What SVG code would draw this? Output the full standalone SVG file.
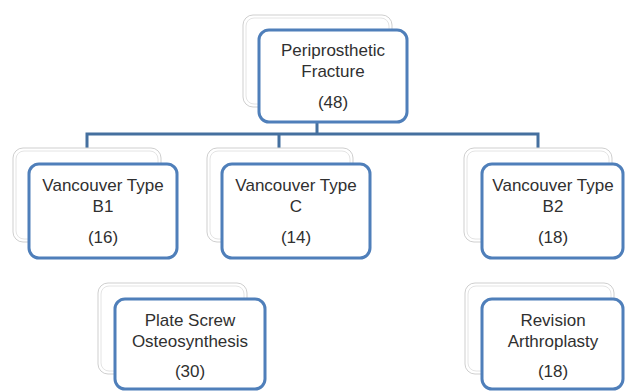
<svg xmlns="http://www.w3.org/2000/svg" width="626" height="391" viewBox="0 0 626 391">
<style>
.sh1{fill:#ffffff;stroke:#cfcfcf;stroke-width:1}
.sh2{fill:#ffffff;stroke:#e4e4e4;stroke-width:1}
.box{fill:#ffffff;stroke:#4f7fba;stroke-width:3}
.t{font-family:"Liberation Sans",Arial,sans-serif;font-size:17px;fill:#303030;text-anchor:middle}
.con{fill:none;stroke:#45709f;stroke-width:3;stroke-linejoin:miter}
</style>
<rect width="626" height="391" fill="#ffffff"/>
<g id="connectors">
<path class="con" d="M317 122 V134 M87 148 V134 H538 V148 M279 134 V148"/>
</g>
<g id="n-top">
<rect class="sh1" x="243" y="15" width="149" height="92" rx="10"/>
<rect class="sh2" x="246" y="18" width="143" height="86" rx="8"/>
<rect class="box" x="259" y="30" width="148" height="92" rx="10"/>
<text class="t" x="333" y="56">Periprosthetic</text>
<text class="t" x="333" y="77">Fracture</text>
<text class="t" x="333" y="108">(48)</text>
</g>
<g id="n-b1">
<rect class="sh1" x="13" y="148" width="148" height="94" rx="10"/>
<rect class="sh2" x="16" y="151" width="142" height="88" rx="8"/>
<rect class="box" x="29" y="164" width="148" height="94" rx="10"/>
<text class="t" x="103" y="191">Vancouver Type</text>
<text class="t" x="103" y="212">B1</text>
<text class="t" x="103" y="243">(16)</text>
</g>
<g id="n-c">
<rect class="sh1" x="207" y="148" width="146" height="94" rx="10"/>
<rect class="sh2" x="210" y="151" width="140" height="88" rx="8"/>
<rect class="box" x="222" y="164" width="148" height="94" rx="10"/>
<text class="t" x="296" y="191">Vancouver Type</text>
<text class="t" x="296" y="212">C</text>
<text class="t" x="296" y="243">(14)</text>
</g>
<g id="n-b2">
<rect class="sh1" x="464" y="148" width="148" height="94" rx="10"/>
<rect class="sh2" x="467" y="151" width="142" height="88" rx="8"/>
<rect class="box" x="482" y="164" width="141" height="94" rx="10"/>
<text class="t" x="553" y="191">Vancouver Type</text>
<text class="t" x="553" y="212">B2</text>
<text class="t" x="553" y="243">(18)</text>
</g>
<g id="n-plate">
<rect class="sh1" x="98" y="283" width="149" height="91" rx="10"/>
<rect class="sh2" x="101" y="286" width="143" height="85" rx="8"/>
<rect class="box" x="115" y="299" width="150" height="90" rx="10"/>
<text class="t" x="190" y="326">Plate Screw</text>
<text class="t" x="190" y="347">Osteosynthesis</text>
<text class="t" x="190" y="377">(30)</text>
</g>
<g id="n-rev">
<rect class="sh1" x="465" y="283" width="149" height="91" rx="10"/>
<rect class="sh2" x="468" y="286" width="143" height="85" rx="8"/>
<rect class="box" x="482" y="299" width="141" height="90" rx="10"/>
<text class="t" x="553" y="326">Revision</text>
<text class="t" x="553" y="347">Arthroplasty</text>
<text class="t" x="553" y="377">(18)</text>
</g>
</svg>
